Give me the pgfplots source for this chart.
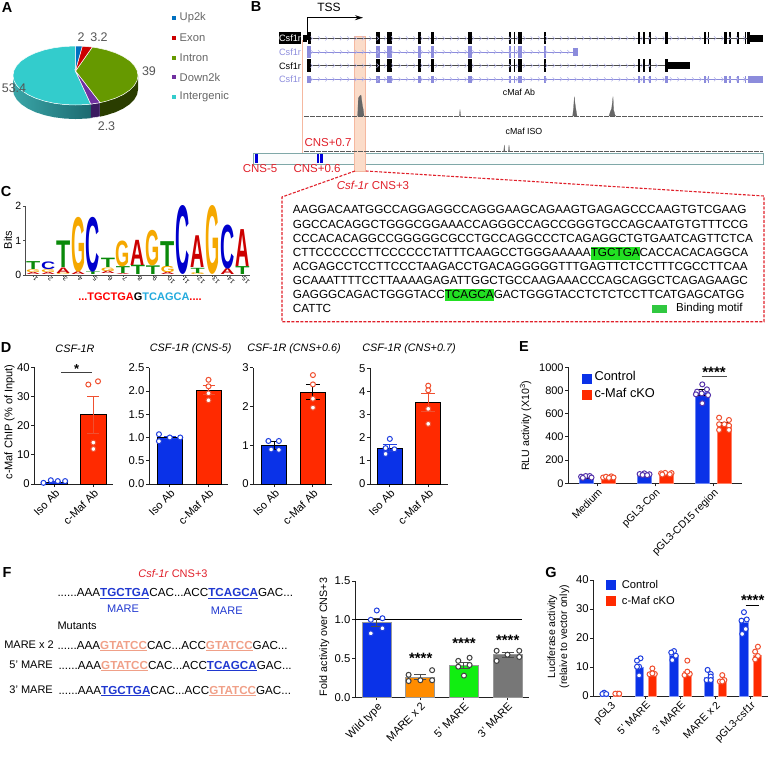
\documentclass[border=0pt]{standalone}
\usepackage{fontspec}
\setmainfont{Liberation Sans}
\usepackage{graphicx}
\usepackage{pgfplots}
\usepackage{pgfplotstable}
\pgfplotsset{compat=1.18}
\usetikzlibrary{arrows.meta}
\definecolor{axc}{HTML}{222222}
\definecolor{bblue}{HTML}{0A32E8}
\definecolor{bred}{HTML}{FF2A00}
\definecolor{redt}{HTML}{E0202A}
\definecolor{vio}{HTML}{8C8CDC}
\definecolor{chevc}{HTML}{B4B4EA}
\definecolor{tcol}{HTML}{0A8A0A}
\definecolor{ccol}{HTML}{0000CC}
\definecolor{gcol}{HTML}{F5A800}
\definecolor{acol}{HTML}{CC0000}
\definecolor{mblue}{HTML}{2038D0}
\definecolor{msalm}{HTML}{F0A088}
\definecolor{hlg}{HTML}{22E022}
\definecolor{cyn}{HTML}{22AADD}
\definecolor{ptb}{HTML}{2040E0}
\definecolor{ptr}{HTML}{F05030}
\definecolor{ptv}{HTML}{5533AA}
\definecolor{HTMLa}{HTML}{3AA6A8}
\definecolor{HTMLb}{HTML}{1D6A70}
\definecolor{HTMLc}{HTML}{3A1A60}
\definecolor{HTMLd}{HTML}{2A3D00}
\definecolor{HTMLe}{HTML}{33CCCC}
\definecolor{HTMLf}{HTML}{669900}
\definecolor{HTMLg}{HTML}{7030A0}
\definecolor{HTMLh}{HTML}{0070C0}
\definecolor{HTMLi}{HTML}{CC0000}
\definecolor{HTMLk}{HTML}{FAFCFC}
\definecolor{HTMLl}{HTML}{7FA8A8}
\definecolor{HTMLm}{HTML}{FBDCC9}
\definecolor{HTMLn}{HTML}{F5B8A0}
\definecolor{HTMLo}{HTML}{30C840}
\definecolor{HTMLp}{HTML}{FF8C00}
\definecolor{HTMLq}{HTML}{11EE11}
\definecolor{HTMLr}{HTML}{777777}
\definecolor{HTMLt}{HTML}{555555}
\definecolor{HTMLu}{HTML}{666666}
\newcommand\fs[1]{\fontsize{#1}{#1}\selectfont}
\newcommand\T[4][]{\node[inner sep=0pt,#1] at (#2pt,-#3pt) {#4};}
\newcommand\bbar[5]{\addplot[ybar,bar width=#3pt,bar shift=0pt,fill=#4,draw=#5,line width=.8pt,forget plot] coordinates {(#1,#2)};}
\newcommand\pts[2]{\addplot[only marks,mark=*,mark size=2.5pt,mark options={fill=white,draw=#1,line width=1pt},forget plot] coordinates {#2};}
\newcommand\err[5]{\addplot[draw=none,no marks,forget plot,error bars/.cd,y dir=both,y explicit,error bar style={draw=#1,line width=.9pt},error mark options={rotate=90,draw=#1,mark size=#5pt,line width=.9pt}] coordinates {(#2,#3) +- (0,#4)};}
\pgfplotsset{base/.style={scale only axis,clip=false,axis x line=bottom,axis y line=left,
  axis line style={-,line width=1pt,draw=axc},tick align=outside,major tick length=3pt,
  tick style={line width=.9pt,draw=axc},/pgf/number format/assume math mode=true,/pgf/number format/1000 sep={},
  scaled y ticks=false,ticklabel style={font=\fs{11.3}},
  xticklabel style={rotate=45,anchor=north east,inner sep=1pt,font=\fs{11}},
  yticklabel style={inner sep=1.5pt}},
  dec/.style={yticklabel style={/pgf/number format/fixed,/pgf/number format/fixed zerofill,/pgf/number format/precision=1}}}
% gene-model exons, in the browser's own coordinates
\newcommand\ra[2]{\addplot[fill=black,draw=none,forget plot] coordinates {(#1,97)(#2,97)(#2,133)(#1,133)};}
\newcommand\rb[2]{\addplot[fill=vio,draw=none,forget plot] coordinates {(#1,137)(#2,137)(#2,175)(#1,175)};}
\newcommand\rc[2]{\addplot[fill=black,draw=none,forget plot] coordinates {(#1,177)(#2,177)(#2,217)(#1,217)};}
\newcommand\rd[2]{\addplot[fill=vio,draw=none,forget plot] coordinates {(#1,228)(#2,228)(#2,248)(#1,248)};}
\newcommand\firstten[1]{#1{393}{406}#1{425}{440}#1{520}{527}#1{558}{567}#1{670}{680}#1{792}{797}#1{806}{811}#1{818}{830}#1{896}{902}}
\newcommand\midthree[1]{#1{1180}{1184}#1{1195}{1199}#1{1212}{1218}#1{1260}{1268}}
\newcommand\lastones[1]{#1{1378}{1382}#1{1389}{1393}#1{1438}{1445}#1{1453}{1458}#1{1477}{1481}#1{1499}{1503}}
\pgfplotstableread[row sep=\\]{x\\200\\222\\244\\266\\288\\310\\332\\354\\376\\398\\420\\442\\464\\486\\508\\530\\552\\574\\596\\618\\640\\662\\684\\706\\728\\750\\772\\794\\816\\838\\860\\882\\904\\926\\948\\970\\992\\1014\\1036\\1058\\1080\\1102\\1124\\1146\\1168\\1190\\1212\\1234\\1256\\1278\\1300\\1322\\1344\\1366\\1388\\1410\\1432\\1454\\1476\\1498\\}\chev
\pgfdeclareplotmark{chev}{\pgfpathmoveto{\pgfqpoint{-1pt}{2pt}}\pgfpathlineto{\pgfqpoint{1pt}{0pt}}\pgfpathlineto{\pgfqpoint{-1pt}{-2pt}}\pgfusepathqstroke}
\newcommand\chevrow[3]{\addplot[only marks,mark=chev,mark options={draw=chevc,line width=.5pt},forget plot,restrict x to domain=#2:#3] table[x index=0,y index=0,y expr=#1]{\chev};}
\newcommand\lgo[5]{\node[inner sep=0pt,anchor=south,text=#1] at (axis cs:#3,#4) {\pgfmathsetlengthmacro\hh{(#5-#4)*34.5pt}\resizebox{14.2pt}{\hh}{\bfseries #2}};}
\newcommand\mw[1]{\textcolor{mblue}{\underline{\textbf{#1}}}}
\newcommand\ms[1]{\textcolor{msalm}{\underline{\textbf{#1}}}}
\newcommand\hl[1]{{\setlength\fboxsep{0pt}\colorbox{hlg}{\rule[-3pt]{0pt}{12.5pt}#1}}}
\begin{document}
\begin{tikzpicture}
\path[use as bounding box] (0pt,0pt) rectangle (768pt,-764pt);
% ---------- panel letters
\foreach \l/\x/\y in {A/7/8,B/256/7,C/6/192,D/6/348,E/524/347,F/7/572,G/551/572}{\T[font=\fs{14.5}\bfseries]{\x}{\y}{\l}}
% ---------- A
\begin{axis}[at={(13pt,-105pt)},anchor=south west,width=125pt,height=59pt,scale only axis,clip=false,axis lines=none,xmin=-1,xmax=1,ymin=-1,ymax=1]
\addplot[draw=none,forget plot,left color=HTMLa,right color=HTMLb] coordinates {(-1,0)(-.985,-.174)(-.94,-.342)(-.866,-.5)(-.766,-.643)(-.643,-.766)(-.5,-.866)(-.342,-.94)(-.174,-.985)(0,-1)(.174,-.985)(.244,-.97)(.244,-1.445)(.174,-1.46)(0,-1.475)(-.174,-1.46)(-.342,-1.415)(-.5,-1.341)(-.643,-1.241)(-.766,-1.118)(-.866,-.975)(-.94,-.817)(-.985,-.649)(-1,-.475)};
\addplot[fill=HTMLc,draw=white,line width=.4pt,forget plot] coordinates {(.244,-.97)(.392,-.92)(.392,-1.395)(.244,-1.445)};
\addplot[fill=HTMLd,draw=none,forget plot] coordinates {(.392,-.92)(.5,-.866)(.643,-.766)(.766,-.643)(.866,-.5)(.94,-.342)(.985,-.174)(1,0)(1,-.475)(.985,-.649)(.94,-.817)(.866,-.975)(.766,-1.118)(.643,-1.241)(.5,-1.341)(.392,-1.395)};
\addplot[fill=HTMLe,draw=white,line width=.5pt,forget plot] coordinates {(0,.15)(.244,-.97)(.174,-.985)(0,-1)(-.174,-.985)(-.342,-.94)(-.5,-.866)(-.643,-.766)(-.766,-.643)(-.866,-.5)(-.94,-.342)(-.985,-.174)(-1,0)(-.985,.174)(-.94,.342)(-.866,.5)(-.766,.643)(-.643,.766)(-.5,.866)(-.342,.94)(-.174,.985)(0,1)} -- cycle;
\addplot[fill=HTMLf,draw=white,line width=.5pt,forget plot] coordinates {(0,.15)(.269,.963)(.342,.94)(.5,.866)(.643,.766)(.766,.643)(.866,.5)(.94,.342)(.985,.174)(1,0)(.985,-.174)(.94,-.342)(.866,-.5)(.766,-.643)(.643,-.766)(.5,-.866)(.392,-.92)} -- cycle;
\addplot[fill=HTMLg,draw=white,line width=.5pt,forget plot] coordinates {(0,.15)(.392,-.92)(.244,-.97)} -- cycle;
\addplot[fill=HTMLh,draw=white,line width=.5pt,forget plot] coordinates {(0,.15)(0,1)(.11,.994)} -- cycle;
\addplot[fill=HTMLi,draw=white,line width=.5pt,forget plot] coordinates {(0,.15)(.11,.994)(.269,.963)} -- cycle;
\end{axis}
\foreach \v/\x/\y in {2/81/37,3.2/99/37,39/149/71,53.4/14/88,2.3/106.5/126.5}{\T[font=\fs{12.5},text=HTMLt]{\x}{\y}{\v}}
\foreach \n/\y/\c in {Up2k/18/HTMLh,Exon/38/HTMLi,Intron/58/HTMLf,Down2k/77/HTMLg,Intergenic/97/HTMLe}{
  \fill[\c] (171.5pt,-\y pt+2.5pt) rectangle (176pt,-\y pt-2pt);
  \T[anchor=west,font=\fs{11.2},text=HTMLu]{179.5}{\y}{\n}}
% ---------- B
\begin{axis}[at={(245pt,0pt)},anchor=north west,width=523pt,height=190pt,scale only axis,clip=false,axis lines=none,xmin=0,xmax=1569,ymin=0,ymax=570,y dir=reverse]
\addplot[fill=HTMLk,draw=HTMLl,line width=.7pt,forget plot] coordinates {(25,460)(1555,460)(1555,492)(25,492)} -- cycle;
\addplot[fill=ccol!75!blue,draw=none,forget plot] coordinates {(30,462)(38,462)(38,490)(30,490)};
\addplot[fill=ccol!75!blue,draw=none,forget plot] coordinates {(215,462)(223,462)(223,490)(215,490)};
\addplot[fill=ccol!75!blue,draw=none,forget plot] coordinates {(226,462)(233,462)(233,490)(226,490)};
\addplot[fill=HTMLm,draw=HTMLn,line width=.6pt,forget plot] coordinates {(327,110)(362,110)(362,515)(327,515)} -- cycle;
\addplot[draw=HTMLn,line width=.5pt,forget plot] coordinates {(172,120)(172,460)};
% rows
\addplot[black!70,line width=.5pt,forget plot] coordinates {(175,115)(1515,115)};
\addplot[vio,line width=.5pt,forget plot] coordinates {(187,156)(983,156)};
\addplot[black!70,line width=.5pt,forget plot] coordinates {(187,197)(1260,197)};
\addplot[vio,line width=.5pt,forget plot] coordinates {(187,238)(1510,238)};
\chevrow{115}{190}{1500}\chevrow{156}{190}{975}\chevrow{197}{190}{1250}\chevrow{238}{190}{1500}
\addplot[fill=black,draw=none,forget plot] coordinates {(175,104)(187,104)(187,126)(175,126)};
\ra{190}{197}\firstten\ra\midthree\ra\lastones\ra\ra{1507}{1515}
\addplot[fill=black,draw=none,forget plot] coordinates {(1515,104)(1555,104)(1555,126)(1515,126)};
\rb{187}{197}\firstten\rb
\addplot[fill=vio,draw=none,forget plot] coordinates {(983,145)(1000,145)(1000,168)(983,168)};
\rc{187}{197}\firstten\rc\midthree\rc
\addplot[fill=black,draw=none,forget plot] coordinates {(1268,186)(1335,186)(1335,208)(1268,208)};
\rd{187}{197}\firstten\rd\midthree\rd\lastones\rd
\addplot[fill=vio,draw=none,forget plot] coordinates {(1510,228)(1555,228)(1555,248)(1510,248)};
% coverage tracks
\addplot[black!65,line width=.6pt,dash pattern=on 5pt off 1pt,forget plot] coordinates {(177,348)(1555,348)};
\addplot[black!65,line width=.6pt,dash pattern=on 5pt off 1pt,forget plot] coordinates {(177,455)(1555,455)};
\addplot[fill=black!60,draw=black!60,line width=.2pt,forget plot] coordinates {(338,348)(340,295)(344,288)(348,285)(350,300)(352,315)(355,330)(357,348)};
\addplot[fill=black!60,draw=black!60,line width=.2pt,forget plot] coordinates {(643,348)(645,330)(647,348)};
\addplot[fill=black!60,draw=black!60,line width=.2pt,forget plot] coordinates {(983,348)(986,320)(988,290)(990,310)(993,330)(996,348)};
\addplot[fill=black!60,draw=black!60,line width=.2pt,forget plot] coordinates {(1092,348)(1096,335)(1100,325)(1104,290)(1106,330)(1110,345)(1112,348)};
\addplot[fill=black!60,draw=black!60,line width=.2pt,forget plot] coordinates {(776,455)(778,435)(780,455)};
\addplot[fill=black!60,draw=black!60,line width=.2pt,forget plot] coordinates {(790,455)(792,435)(794,455)};
\end{axis}
\T[font=\fs{12}]{329}{7.5}{TSS}
\draw[line width=1.3pt,-{Stealth[length=8pt,width=5pt]}] (307.3pt,-40pt) -- (307.3pt,-17.7pt) -- (363pt,-17.7pt);
\fill[black] (279pt,-32pt) rectangle (301pt,-44pt);
\T[font=\fs{9.2},text=white]{290}{38.3}{Csf1r}
\T[font=\fs{9.2},text=vio]{290}{52.3}{Csf1r}
\T[font=\fs{9.2}]{290}{66}{Csf1r}
\T[font=\fs{9.2},text=vio]{290}{79.3}{Csf1r}
\T[font=\fs{8.8}]{519}{92}{cMaf Ab}
\T[font=\fs{8.8}]{524}{131}{cMaf ISO}
\T[font=\fs{11.5},text=redt]{328}{143}{CNS+0.7}
\T[font=\fs{11.5},text=redt]{260}{169}{CNS-5}
\T[font=\fs{11.5},text=redt]{317}{169}{CNS+0.6}
\T[font=\fs{11.5},text=redt]{373}{185}{\textit{Csf-1r} CNS+3}
\draw[redt,line width=1.1pt,dash pattern=on 3pt off 1.5pt] (355pt,-171pt) -- (282pt,-197pt) -- (282pt,-321.7pt) -- (764pt,-321.7pt) -- (764pt,-196pt) -- (366pt,-171pt);
% sequence
\foreach \s/\y in {AAGGACAATGGCCAGGAGGCCAGGGAAGCAGAAGTGAGAGCCCAAGTGTCGAAG/213.5,GGCCACAGGCTGGGCGGAAACCAGGGCCAGCCGGGTGCCAGCAATGTGTTTCCG/228.5,CCCACACAGGCCGGGGGCGCCTGCCAGGCCCTCAGAGGCTGTGAATCAGTTCTCA/242.5,ACGAGCCTCCTTCCCTAAGACCTGACAGGGGGTTTGAGTTCTCCTTTCGCCTTCAA/270,GCAAATTTTCCTTAAAAGAGATTGGCTGCCAAGAAACCCAGCAGGCTCAGAGAAGC/284,CATTC/312}{\T[anchor=base west,font=\fs{11.75}]{292.7}{\y}{\s}}
\T[anchor=base west,font=\fs{11.75}]{292.7}{256.5}{CTTCCCCCCTTCCCCCCTATTTCAAGCCTGGGAAAAA\hl{TGCTGA}CACCACACAGGCA}
\T[anchor=base west,font=\fs{11.75}]{292.7}{298}{GAGGGCAGACTGGGTACC\hl{TCAGCA}GACTGGGTACCTCTCTCCTTCATGAGCATGG}
\fill[HTMLo] (651.7pt,-305pt) rectangle (667pt,-313pt);
\T[anchor=west,font=\fs{11.5}]{676}{309}{Binding motif}
% ---------- C
\begin{axis}[base,at={(25pt,-275pt)},anchor=south west,width=225pt,height=69pt,xmin=.444,xmax=15.5,ymin=0,ymax=2,
 xtick={1,2,3,4,5,6,7,8,9,10,11,12,13,14,15},ytick={0,1,2},axis line style={-,line width=.6pt,draw=black!70},
 xticklabel style={rotate=90,anchor=east,font=\fs{6.5}},major tick length=2pt,tick style={line width=.5pt,draw=black!70},ticklabel style={font=\fs{9}},yticklabel style={font=\fs{10.5}}]
\lgo{acol}{A}{1}{0}{.06}\lgo{gcol}{G}{1}{.07}{.15}\lgo{tcol}{T}{1}{.16}{.39}
\lgo{acol}{A}{2}{0}{.06}\lgo{gcol}{G}{2}{.07}{.15}\lgo{ccol}{C}{2}{.16}{.38}
\lgo{gcol}{G}{3}{0}{.04}\lgo{acol}{A}{3}{.04}{.2}\lgo{tcol}{T}{3}{.2}{.97}
\lgo{acol}{A}{4}{0}{.08}\lgo{gcol}{G}{4}{.08}{1.65}
\lgo{tcol}{T}{5}{0}{.08}\lgo{ccol}{C}{5}{.08}{1.65}
\lgo{acol}{A}{6}{.03}{.1}\lgo{gcol}{G}{6}{.1}{.2}\lgo{tcol}{T}{6}{.2}{.47}
\lgo{acol}{A}{7}{0}{.03}\lgo{tcol}{T}{7}{.03}{.23}\lgo{gcol}{G}{7}{.23}{.97}
\lgo{tcol}{T}{8}{0}{.27}\lgo{acol}{A}{8}{.27}{1}
\lgo{tcol}{T}{9}{0}{.25}\lgo{gcol}{G}{9}{.25}{1.27}
\lgo{acol}{A}{10}{0}{.06}\lgo{gcol}{G}{10}{.07}{.25}\lgo{tcol}{T}{10}{.25}{.97}
\lgo{ccol}{C}{11}{0}{1.97}
\lgo{gcol}{G}{12}{0}{.05}\lgo{tcol}{T}{12}{.05}{.2}\lgo{acol}{A}{12}{.2}{1.12}
\lgo{gcol}{G}{13}{0}{1.97}
\lgo{acol}{A}{14}{0}{.17}\lgo{ccol}{C}{14}{.17}{1.43}
\lgo{tcol}{T}{15}{0}{.23}\lgo{acol}{A}{15}{.23}{1.3}
\end{axis}
\T[rotate=90,font=\fs{11}]{8}{240}{Bits}
\T[font=\fs{11}\bfseries]{140}{297}{\textcolor{red}{...TGCTGA}\textcolor{black}{G}\textcolor{cyn}{TCAGCA}\textcolor{red}{....}}
% ---------- D
\begin{axis}[base,at={(34.3pt,-484pt)},anchor=south west,width=78.4pt,height=116.7pt,xmin=-.527,xmax=1.5,ymin=0,ymax=40,xtick={0,1},xticklabels={Iso Ab,c-Maf Ab},ytick={0,10,20,30,40}]
\bbar{0}{.7}{26}{bblue}{black}\bbar{1}{23.7}{25.5}{bred}{black}
\err{ptr}{1}{23.7}{6.4}{6}\err{ptb}{0}{.7}{.3}{6}
\pts{ptb}{(-.29,.4)(-.1,1.3)(.08,1)(.27,1)}
\pts{ptr}{(.87,34.1)(1.12,35.2)(1,14.2)(1,12)}
\end{axis}
\begin{axis}[base,dec,at={(149pt,-484pt)},anchor=south west,width=78.7pt,height=116.3pt,xmin=-.537,xmax=1.496,ymin=0,ymax=2.5,xtick={0,1},xticklabels={Iso Ab,c-Maf Ab},ytick={0,.5,1,1.5,2,2.5}]
\bbar{0}{1}{25}{bblue}{black}\bbar{1}{2.02}{25}{bred}{black}
\err{ptb}{0}{1}{.03}{6}\err{ptr}{1}{2.02}{.1}{6}
\pts{ptb}{(-.28,1.07)(-.28,.92)(0,1)(.27,1)}
\pts{ptr}{(1,2.24)(1,2.1)(1,1.95)(1,1.8)}
\end{axis}
\begin{axis}[base,at={(253.3pt,-484pt)},anchor=south west,width=79pt,height=116.3pt,xmin=-.54,xmax=1.5,ymin=0,ymax=3,xtick={0,1},xticklabels={Iso Ab,c-Maf Ab},ytick={0,1,2,3}]
\bbar{0}{1}{25}{bblue}{black}\bbar{1}{2.37}{25}{bred}{black}
\pts{ptb}{(-.15,1.11)(.12,1.11)(-.08,.89)(.12,.88)}
\pts{ptr}{(1,2.81)(1,2.57)(1,2.2)(1,1.97)}
\err{black}{0}{1}{.1}{6}\err{black}{1}{2.37}{.19}{7}
\end{axis}
\begin{axis}[base,at={(370pt,-484pt)},anchor=south west,width=77.7pt,height=115.7pt,xmin=-.516,xmax=1.507,ymin=0,ymax=5,xtick={0,1},xticklabels={Iso Ab,c-Maf Ab},ytick={0,1,2,3,4,5}]
\bbar{0}{1.55}{25}{bblue}{black}\bbar{1}{3.53}{25}{bred}{black}
\err{ptb}{0}{1.55}{.15}{7}\err{ptr}{1}{3.53}{.4}{7}
\pts{ptb}{(0,1.95)(-.11,1.55)(.12,1.5)(-.11,1.3)}
\pts{ptr}{(1,4.25)(1,4.05)(1,3.25)(1,2.6)}
\end{axis}
\T[font=\fs{10.8}\itshape]{75}{349}{CSF-1R}
\T[font=\fs{10.8}\itshape]{190.7}{349}{CSF-1R (CNS-5)}
\T[font=\fs{10.8}\itshape]{294}{349}{CSF-1R (CNS+0.6)}
\T[font=\fs{10.8}\itshape]{409}{349}{CSF-1R (CNS+0.7)}
\T[rotate=90,font=\fs{11}]{9.5}{422}{c-Maf ChIP (\% of Input)}
\draw[black!75,line width=1pt] (61.3pt,-372.7pt) -- (91.7pt,-372.7pt);
\T[font=\fs{13}\bfseries]{76.7}{369.5}{*}
% ---------- E
\begin{axis}[base,at={(568.3pt,-483.3pt)},anchor=south west,width=174pt,height=116pt,xmin=-.5,xmax=2.5,ymin=0,ymax=1000,xtick={0,1,2},xticklabels={Medium,pGL3-Con,pGL3-CD15 region},ytick={0,200,400,600,800,1000},ticklabel style={font=\fs{11}},xticklabel style={font=\fs{10.5}}]
\bbar{-.19}{50}{14.7}{bblue}{bblue!60}\bbar{.19}{50}{14.7}{bred}{bred!60}
\bbar{.81}{75}{14.7}{bblue}{bblue!60}\bbar{1.19}{80}{14.7}{bred}{bred!60}
\bbar{1.81}{780}{14.7}{bblue}{bblue!60}\bbar{2.19}{510}{14.7}{bred}{bred!60}
\pts{ptv}{(-.28,57)(-.2,63)(-.13,63)(-.1,50)(-.25,47)}
\pts{ptr}{(.1,50)(.15,57)(.24,60)(.28,50)(.2,47)}
\pts{ptv}{(.73,80)(.81,86)(.9,78)(.78,72)(.86,70)}
\pts{ptr}{(1.1,86)(1.17,90)(1.28,88)(1.12,76)(1.25,78)}
\pts{ptv}{(1.81,853)(1.72,790)(1.89,810)(1.7,767)(1.91,760)(1.81,690)(1.8,775)}
\pts{ptr}{(2.1,566)(2.27,546)(2.1,509)(2.19,509)(2.27,497)(2.1,460)(2.27,460)}
\err{black}{-.19}{50}{5}{5}\err{black}{.19}{50}{4}{5}\err{black}{.81}{75}{5}{5}\err{black}{1.19}{80}{4}{5}\err{black}{1.81}{780}{25}{5}\err{black}{2.19}{510}{15}{5}
\end{axis}
\T[rotate=90,font=\fs{10.6}]{525.7}{425.7}{RLU activity (X10\textsuperscript{3})}
\fill[bblue] (581.7pt,-374pt) rectangle (591.7pt,-384pt);
\fill[bred] (581.7pt,-390pt) rectangle (591.7pt,-400pt);
\T[anchor=west,font=\fs{12.8}]{594.3}{375.7}{Control}
\T[anchor=west,font=\fs{12.8}]{594.3}{393.3}{c-Maf cKO}
\T[font=\fs{15}\bfseries]{714}{372}{****}
\draw[black!70,line width=1.2pt] (701.7pt,-376.7pt) -- (726.7pt,-376.7pt);
% ---------- F
\T[font=\fs{11},text=redt]{173}{574}{\textit{Csf-1r} CNS+3}
\T[anchor=base west,font=\fs{11.65}]{57.3}{596.5}{......AAA\mw{TGCTGA}CAC...ACC\mw{TCAGCA}GAC...}
\T[font=\fs{11},text=mblue]{123}{609}{MARE}
\T[font=\fs{11},text=mblue]{226.7}{611}{MARE}
\T[anchor=west,font=\fs{11}]{57.3}{626}{Mutants}
\T[anchor=east,font=\fs{11}]{54}{645}{MARE x 2}
\T[anchor=base west,font=\fs{11.65}]{57.3}{649}{......AAA\ms{GTATCC}CAC...ACC\ms{GTATCC}GAC...}
\T[anchor=east,font=\fs{11}]{53}{665}{5' MARE}
\T[anchor=base west,font=\fs{11.65}]{58.3}{669}{......AAA\ms{GTATCC}CAC...ACC\mw{TCAGCA}GAC...}
\T[anchor=east,font=\fs{11}]{53}{690}{3' MARE}
\T[anchor=base west,font=\fs{11.65}]{58.3}{694}{......AAA\mw{TGCTGA}CAC...ACC\ms{GTATCC}GAC...}
\begin{axis}[base,dec,at={(355pt,-697.3pt)},anchor=south west,width=174.3pt,height=116.3pt,xmin=-.5,xmax=3.5,ymin=0,ymax=1.5,xtick={0,1,2,3},xticklabels={Wild type,MARE x 2,5' MARE,3' MARE},ytick={0,.5,1,1.5}]
\bbar{0}{.97}{29}{bblue}{black!40}\bbar{1}{.26}{29}{HTMLp}{black!40}\bbar{2}{.41}{29}{HTMLq}{black!40}\bbar{3}{.55}{29}{HTMLr}{black!40}
\addplot[black,line width=1pt,forget plot] coordinates {(-.5,1)(3.33,1)};
\err{black!70}{1}{.26}{.03}{6}\err{black!70}{2}{.41}{.04}{6}\err{black!70}{3}{.55}{.03}{6}\err{black!70}{0}{.97}{.05}{6}
\pts{ptb}{(0,1.12)(-.137,1)(.13,1.02)(.13,.89)(-.137,.825)}
\pts{black!75}{(.73,.29)(.73,.21)(1,.22)(1.27,.35)(1.27,.22)}
\pts{black!75}{(1.87,.47)(2.13,.51)(1.87,.395)(2.13,.417)(2,.28)}
\pts{black!75}{(2.75,.6)(3.27,.6)(2.75,.47)(3.27,.52)(3,.55)}
\end{axis}
\T[rotate=90,font=\fs{10.7}]{324.3}{637}{Fold activity over CNS+3}
\T[font=\fs{15}\bfseries]{420.7}{658}{****}
\T[font=\fs{15}\bfseries]{464}{643.7}{****}
\T[font=\fs{15}\bfseries]{507.7}{640}{****}
% ---------- G
\begin{axis}[base,at={(593.3pt,-696pt)},anchor=south west,width=174.4pt,height=116pt,xmin=-.5,xmax=4.49,ymin=0,ymax=40,xtick={0,1,2,3,4},xticklabels={pGL3,5' MARE,3' MARE,MARE x 2,pGL3-csf1r},ytick={0,10,20,30,40},xticklabel style={font=\fs{10.5}}]
\bbar{-.19}{.9}{8.3}{bblue}{bblue!50}\bbar{.19}{.9}{8.3}{bred}{bred!50}
\bbar{.81}{10}{8.3}{bblue}{bblue!50}\bbar{1.19}{8}{8.3}{bred}{bred!50}
\bbar{1.81}{14}{8.3}{bblue}{bblue!50}\bbar{2.19}{8.5}{8.3}{bred}{bred!50}
\bbar{2.81}{6.5}{8.3}{bblue}{bblue!50}\bbar{3.19}{5.5}{8.3}{bred}{bred!50}
\bbar{3.81}{25.5}{8.3}{bblue}{bblue!50}\bbar{4.19}{14}{8.3}{bred}{bred!50}
\pts{ptb}{(-.19,1.15)(-.24,.7)(-.13,.7)}
\pts{ptr}{(.19,.8)(.13,.8)(.24,.8)}
\pts{ptb}{(.85,13)(.75,12.2)(.81,10.1)(.75,10.1)(.81,7.1)}
\pts{ptr}{(1.19,9.5)(1.11,7.5)(1.26,7.6)(1.19,7.8)}
\pts{ptb}{(1.81,15.5)(1.73,15)(1.86,13.9)(1.76,12.4)}
\pts{ptr}{(2.19,12.2)(2.11,7.2)(2.26,7.6)(2.19,8.4)}
\pts{ptb}{(2.77,9)(2.86,7.6)(2.86,6.7)(2.74,5.5)(2.86,5.5)}
\pts{ptr}{(3.19,7.2)(3.12,5)(3.25,5.5)(3.19,5)}
\pts{ptb}{(3.81,28.9)(3.74,26)(3.89,26.4)(3.86,23.1)(3.76,21.4)}
\pts{ptr}{(4.21,17)(4.13,15.3)(4.21,13.8)(4.13,12.6)}
\end{axis}
\T[rotate=90,font=\fs{10.5}]{552.3}{636.7}{Luciferase activity}
\T[rotate=90,font=\fs{10.5}]{564.3}{636.7}{(relaive to vector only)}
\fill[bblue] (605.7pt,-580pt) rectangle (615.7pt,-590pt);
\fill[bred] (605.7pt,-596pt) rectangle (615.7pt,-606pt);
\T[anchor=west,font=\fs{11.2}]{621.7}{584.7}{Control}
\T[anchor=west,font=\fs{11.2}]{621.7}{600.7}{c-Maf cKO}
\T[font=\fs{15}\bfseries]{752.7}{600.5}{****}
\draw[black,line width=.9pt] (745.7pt,-605pt) -- (759.3pt,-605pt);
\end{tikzpicture}
\end{document}
